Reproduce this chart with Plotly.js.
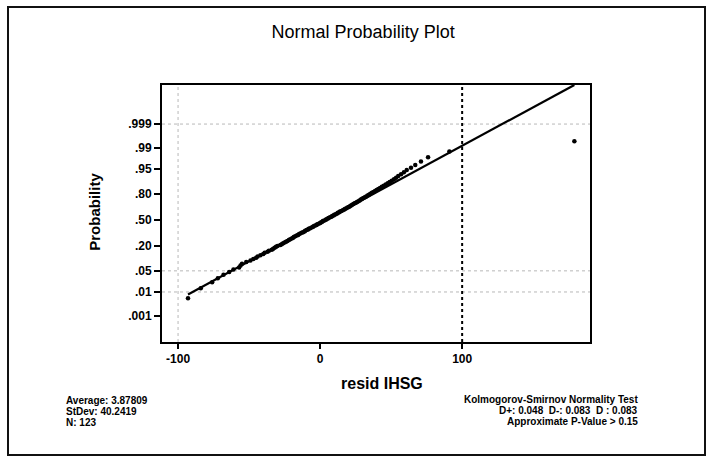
<!DOCTYPE html>
<html><head><meta charset="utf-8">
<script src="https://cdn.plot.ly/plotly-3.0.1.min.js"></script>
<style>html,body{margin:0;padding:0;background:#fff}#chart{width:712px;height:461px}</style>
</head><body><div id="chart"></div>
<script>
// Sorted residuals (resid IHSG), N = 123
const resid = [
 -93,-84,-76,-72,-68,-64,-61,-57,-56,-55,
 -52,-49,-47,-45,-44,-42,-40,-39,-37,-36,
 -34,-33,-32,-31,-30,-28,-27,-26,-25,-24,
 -23,-22,-21,-20,-19,-18.5,-17.5,-16.5,-15.5,-15,
 -14,-13,-12,-11,-10.5,-9.5,-8.5,-8,-7,-6,
 -5,-4.5,-3.5,-2.5,-2,-1,0,0.5,1.5,2,
 3,4,4.5,5.5,6,7,8,8.5,9.5,10,
 11,12,12.5,13.5,14,15,16,17,17.5,18.5,
 19.3,20.2,21,21.8,22.6,23.5,24.3,25.2,26,27,
 27.8,28.7,29.6,30.5,31.5,32.5,33.4,34.4,35.4,36.5,
 37.6,38.7,39.8,41,42.2,43.5,44.8,46.2,47.6,49,
 50.5,52,53.5,55,57,59,61,64,67,71,
 76,91,179
];
const probTicks = [0.001, 0.01, 0.05, 0.20, 0.50, 0.80, 0.95, 0.99, 0.999];
const probLabels = [".001", ".01", ".05", ".20", ".50", ".80", ".95", ".99", ".999"];
const xTicks = [-100, 0, 100];
const gridProbs = [0.999, 0.05, 0.01];
const average = 3.87809, stdev = 40.2419;
const statsLeft = ["Average: 3.87809", "StDev: 40.2419", "N: 123"];
const statsRight = ["Kolmogorov-Smirnov Normality Test", "D+: 0.048  D-: 0.083  D : 0.083", "Approximate P-Value > 0.15"];

// inverse standard normal (Acklam)
function qnorm(p){
  const a=[-3.969683028665376e+01,2.209460984245205e+02,-2.759285104469687e+02,1.383577518672690e+02,-3.066479806614716e+01,2.506628277459239e+00];
  const b=[-5.447609879822406e+01,1.615858368580409e+02,-1.556989798598866e+02,6.680131188771972e+01,-1.328068155288572e+01];
  const c=[-7.784894002430293e-03,-3.223964580411365e-01,-2.400758277161838e+00,-2.549732539343734e+00,4.374664141464968e+00,2.938163982698783e+00];
  const d=[7.784695709041462e-03,3.224671290700398e-01,2.445134137142996e+00,3.754408661907416e+00];
  const pl=0.02425;
  if(p<pl){const q=Math.sqrt(-2*Math.log(p));return (((((c[0]*q+c[1])*q+c[2])*q+c[3])*q+c[4])*q+c[5])/((((d[0]*q+d[1])*q+d[2])*q+d[3])*q+1);}
  if(p>1-pl){const q=Math.sqrt(-2*Math.log(1-p));return -(((((c[0]*q+c[1])*q+c[2])*q+c[3])*q+c[4])*q+c[5])/((((d[0]*q+d[1])*q+d[2])*q+d[3])*q+1);}
  const q=p-0.5,r=q*q;
  return (((((a[0]*r+a[1])*r+a[2])*r+a[3])*r+a[4])*r+a[5])*q/(((((b[0]*r+b[1])*r+b[2])*r+b[3])*r+b[4])*r+1);
}
const n = resid.length;
const zPts = resid.map((v,i)=>qnorm((i+1-0.3)/(n+0.4)));
const lineX = [Math.min(...resid), Math.max(...resid)];
const lineZ = lineX.map(v=>(v-average)/stdev);

const font = "Liberation Sans, Arial, sans-serif";
const traces = [
  {x: lineX, y: lineZ, mode:"lines", line:{color:"#000", width:2.2}, hoverinfo:"skip"},
  {x: resid, y: zPts, mode:"markers", marker:{color:"#000", size:4.5, symbol:"circle"}}
];
const shapes = [];
gridProbs.forEach(p=>{
  shapes.push({type:"line", xref:"paper", x0:0, x1:1, yref:"y", y0:qnorm(p), y1:qnorm(p), line:{color:"#b8b8b8", width:1, dash:"dot"}, layer:"below"});
});
shapes.push({type:"line", xref:"x", x0:xTicks[0], x1:xTicks[0], yref:"paper", y0:0, y1:1, line:{color:"#b8b8b8", width:1, dash:"dot"}, layer:"below"});
shapes.push({type:"line", xref:"x", x0:xTicks[2], x1:xTicks[2], yref:"paper", y0:0, y1:1, line:{color:"#000", width:2, dash:"dot"}});
shapes.push({type:"rect", xref:"paper", yref:"paper", x0:-0.3598, x1:1.2687, y0:-0.4397, y1:1.3035, line:{color:"#111", width:2}});

const annotations = [];
statsLeft.forEach((t,i)=>annotations.push({text:t, xref:"paper", yref:"paper", x:-0.229, y:-0.226-i*0.043, xanchor:"left", yanchor:"middle", showarrow:false, font:{family:font, size:10, color:"#000", weight:"bold"}}));
statsRight.forEach((t,i)=>annotations.push({text:t, xref:"paper", yref:"paper", x:1.116, y:-0.222-i*0.043, xanchor:"right", yanchor:"middle", showarrow:false, font:{family:font, size:10, color:"#000", weight:"bold"}}));
annotations.push({text:"resid IHSG", xref:"paper", yref:"paper", x:0.514, y:-0.16, xanchor:"center", yanchor:"middle", showarrow:false, font:{family:font, size:16, color:"#000", weight:"bold"}});
annotations.push({text:"Probability", xref:"paper", yref:"paper", x:-0.157, y:0.506, textangle:-90, xanchor:"center", yanchor:"middle", showarrow:false, font:{family:font, size:15, color:"#000", weight:"bold"}});

const layout = {
  width:712, height:461,
  margin:{l:162, r:122, t:85, b:119},
  paper_bgcolor:"#fff", plot_bgcolor:"#fff",
  showlegend:false,
  title:{text:"Normal Probability Plot", x:0.51, xref:"container", xanchor:"center", y:0.932, yref:"container", yanchor:"middle", font:{family:font, size:18, color:"#000"}},
  xaxis:{range:[-111.3,190], tickvals:xTicks, ticktext:xTicks.map(String), ticks:"outside", ticklen:5, tickwidth:2, tickcolor:"#000",
    showline:true, linecolor:"#000", linewidth:2, mirror:true, showgrid:false, zeroline:false,
    tickfont:{family:font, size:12, color:"#000", weight:"bold"}},
  yaxis:{range:[-3.94,4.35], tickvals:probTicks.map(qnorm), ticktext:probLabels, ticks:"outside", ticklen:6, tickwidth:2, tickcolor:"#000",
    showline:true, linecolor:"#000", linewidth:2, mirror:true, showgrid:false, zeroline:false,
    tickfont:{family:font, size:12, color:"#000", weight:"bold"}},
  shapes, annotations
};
Plotly.newPlot("chart", traces, layout, {displayModeBar:false, staticPlot:true});
</script>
</body></html>
